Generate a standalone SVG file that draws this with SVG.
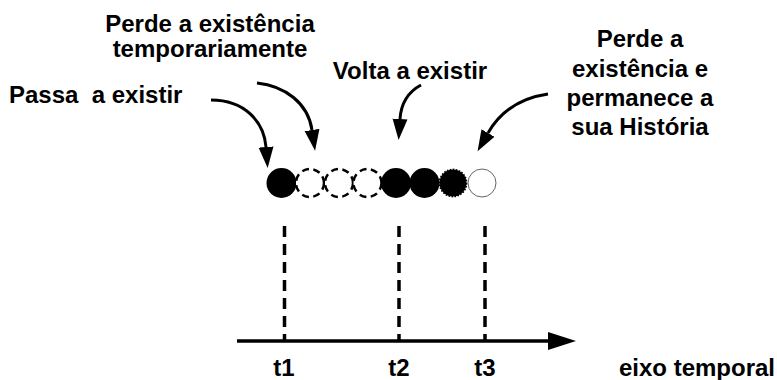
<svg xmlns="http://www.w3.org/2000/svg" width="777" height="380" viewBox="0 0 777 380">
<defs>
<style>
text{font-family:"Liberation Sans",Arial,sans-serif;font-weight:bold;font-size:24px;fill:#000}
.c{stroke-width:3;fill:none;stroke:#000}
.dash{stroke:#000;stroke-width:3.5;stroke-dasharray:11 7;fill:none}
.solid{fill:#000}
.dc{fill:#fff;stroke:#000;stroke-width:2.5;stroke-dasharray:7 4.5}
</style>
<marker id="ah" markerUnits="userSpaceOnUse" viewBox="0 -8 22 16" refX="0" refY="0" markerWidth="22" markerHeight="16" orient="auto">
<path d="M0,-7.5 L21,0 L0,7.5 z" fill="#000"/>
</marker>
<marker id="axh" markerUnits="userSpaceOnUse" viewBox="0 -10 30 20" refX="0" refY="0" markerWidth="30" markerHeight="20" orient="auto">
<path d="M0,-9 L28,0 L0,9 z" fill="#000"/>
</marker>
</defs>
<rect width="777" height="380" fill="#fff"/>
<g id="connectors">
<path class="c" d="M211,100 C245,100 264,122 266,147" marker-end="url(#ah)"/>
<path class="c" d="M257,83 C285,86 308,103 312,130" marker-end="url(#ah)"/>
<path class="c" d="M421,85 C408,92 401,104 400,119" marker-end="url(#ah)"/>
<path class="c" d="M548,94 C520,98 500,112 488,133" marker-end="url(#ah)"/>
<line class="dash" x1="284.5" y1="226" x2="284.5" y2="341"/>
<line class="dash" x1="399" y1="226" x2="399" y2="341"/>
<line class="dash" x1="485" y1="226" x2="485" y2="341"/>
<line x1="237" y1="341" x2="548" y2="341" stroke="#000" stroke-width="3.5" marker-end="url(#axh)"/>
</g>
<g id="circles">
<circle class="solid" cx="281.5" cy="183" r="15"/>
<circle class="dc" cx="310" cy="183" r="14"/>
<circle class="dc" cx="339" cy="183" r="14"/>
<circle class="dc" cx="367.5" cy="183" r="14"/>
<circle class="solid" cx="396" cy="183" r="15"/>
<circle class="solid" cx="424.5" cy="183" r="15"/>
<circle cx="453" cy="183" r="13.5" fill="#000" stroke="#000" stroke-width="1.8" stroke-dasharray="1.6 1.4"/>
<circle cx="482" cy="183" r="14" fill="#fff" stroke="#666" stroke-width="1"/>
</g>
<g id="label-passa"><text x="9" y="103" xml:space="preserve" style="white-space:pre">Passa  a existir</text></g>
<g id="label-perde-temp">
<text x="210" y="31.5" text-anchor="middle">Perde a existência</text>
<text x="210" y="56.5" text-anchor="middle">temporariamente</text>
</g>
<g id="label-volta"><text x="410" y="79" text-anchor="middle">Volta a existir</text></g>
<g id="label-perde-hist">
<text x="640" y="47" text-anchor="middle">Perde a</text>
<text x="640" y="76.5" text-anchor="middle">existência e</text>
<text x="640" y="105.5" text-anchor="middle">permanece a</text>
<text x="640" y="134.5" text-anchor="middle">sua História</text>
</g>
<g id="axis-labels">
<text x="284" y="376" text-anchor="middle">t1</text>
<text x="399" y="376" text-anchor="middle">t2</text>
<text x="485" y="376" text-anchor="middle">t3</text>
<text x="697" y="376" text-anchor="middle">eixo temporal</text>
</g>
</svg>
